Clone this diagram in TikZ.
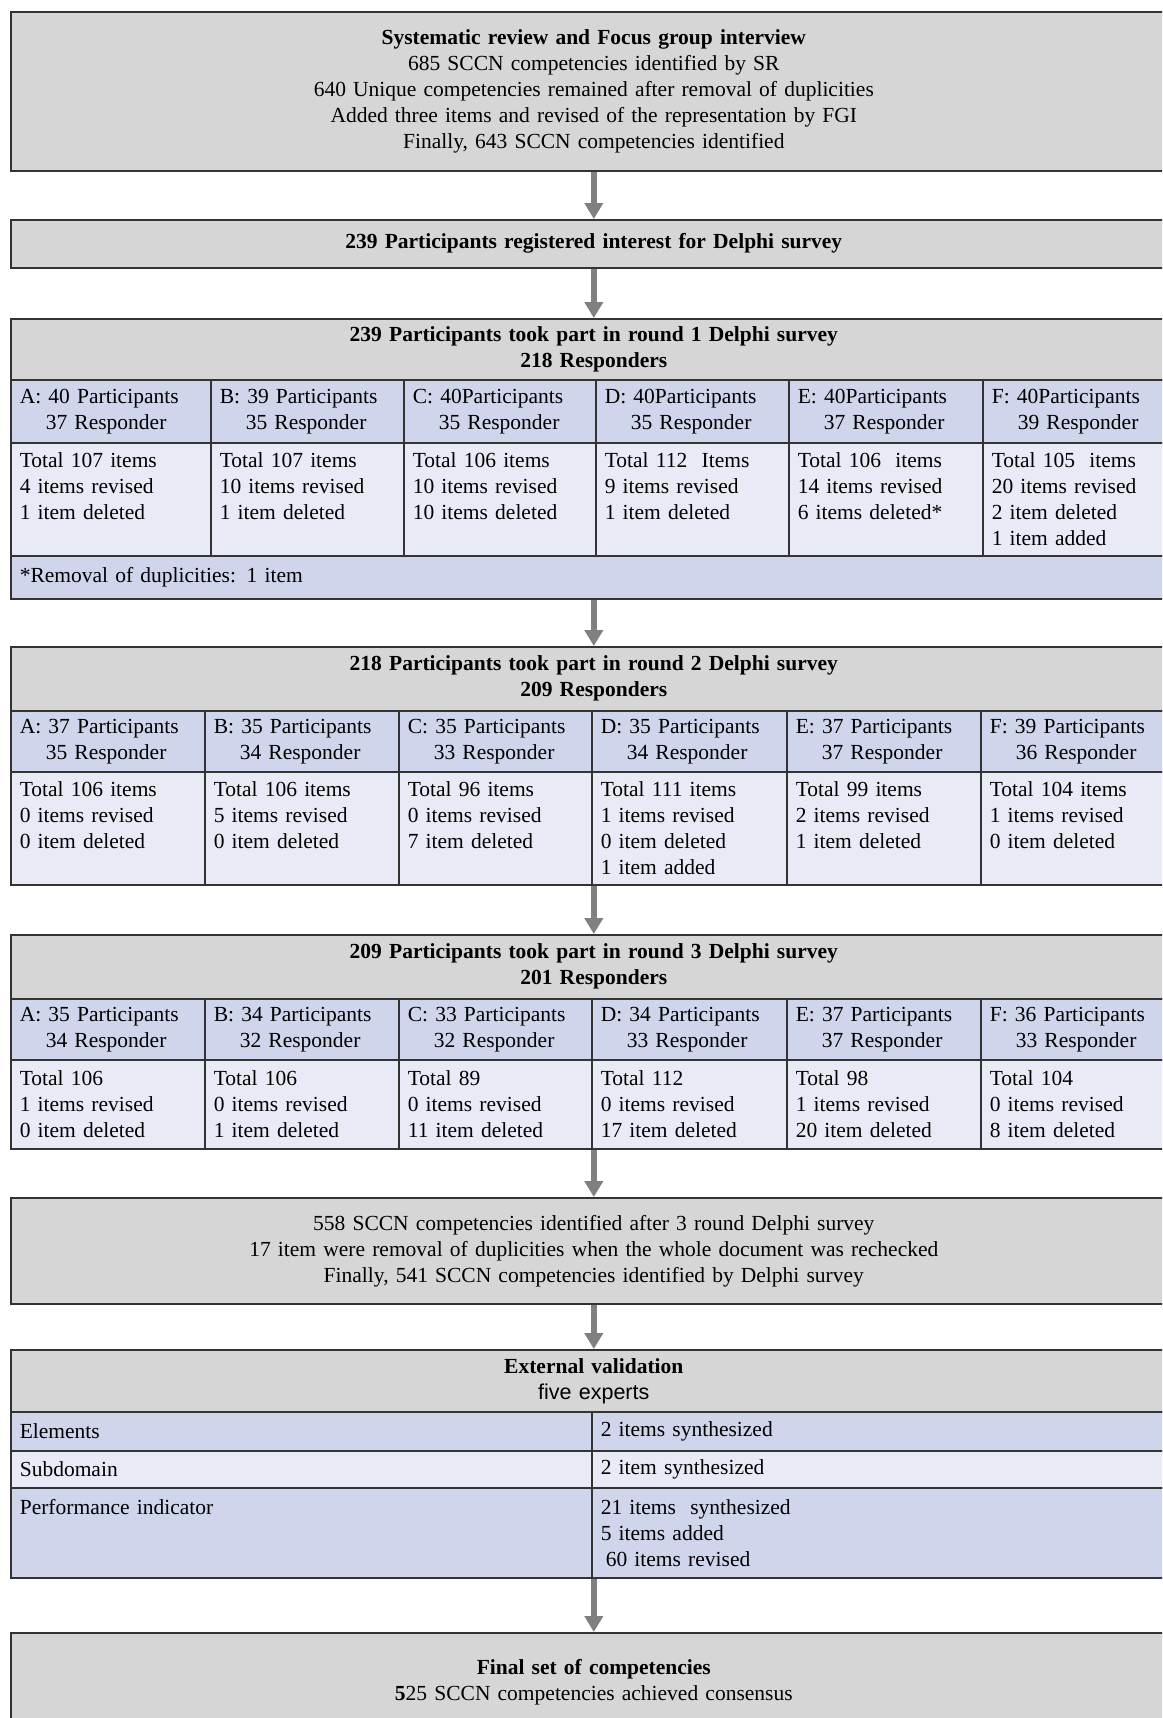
\documentclass[tikz,border=0pt]{standalone}
\usepackage{fontspec}
\setmainfont{Liberation Serif}
\newfontfamily\expertfont{Liberation Sans}
\usetikzlibrary{arrows.meta,fit}
\definecolor{boxgray}{HTML}{D6D6D6}
\definecolor{rowblue}{HTML}{CFD5EA}
\definecolor{rowpale}{HTML}{E8EBF5}
\definecolor{edge}{HTML}{333333}
\definecolor{flowgray}{HTML}{808080}

\begin{document}
\begin{tikzpicture}[x=1pt,y=-1pt,
    font=\fontsize{21.5}{26}\selectfont,
    box/.style={draw=edge,line width=1.6pt,anchor=north west,inner xsep=9pt,inner ysep=0pt,
      align=center,fill=boxgray,text width=1148pt},
    cell/.style={draw=edge,line width=1.6pt,anchor=north west,inner xsep=9pt,inner ysep=0pt,align=left},
    flow/.style={draw=flowgray,line width=6pt,-{Triangle[width=18pt,length=16pt]}}]
  \useasboundingbox (0,0) rectangle (1162,1718);
  \clip (0,0) rectangle (1162,1718);

  % literature and registration
  \node[box,minimum height=159pt] (sr) at (10,11)
    {\textbf{Systematic review and Focus group interview}\\
     685 SCCN competencies identified by SR\\
     640 Unique competencies remained after removal of duplicities\\
     Added three items and revised of the representation by FGI\\
     Finally, 643 SCCN competencies identified};
  \node[box,minimum height=48pt] (reg) at (10,219)
    {\textbf{239 Participants registered interest for Delphi survey}};

  % round 1
  \node[box,minimum height=61pt] (hd1) at (10,318)
    {\textbf{239 Participants took part in round 1 Delphi survey}\\\textbf{218 Responders}};
  \node[cell,fill=rowblue,text width=182pt,minimum height=63pt] (p1a) at (10,379) {A: 40 Participants\\\hspace*{26pt}37 Responder};
  \node[cell,fill=rowblue,text width=175pt,minimum height=63pt] (p1b) at (210,379) {B: 39 Participants\\\hspace*{26pt}35 Responder};
  \node[cell,fill=rowblue,text width=174pt,minimum height=63pt] (p1c) at (403,379) {C: 40Participants\\\hspace*{26pt}35 Responder};
  \node[cell,fill=rowblue,text width=175pt,minimum height=63pt] (p1d) at (595,379) {D: 40Participants\\\hspace*{26pt}35 Responder};
  \node[cell,fill=rowblue,text width=176pt,minimum height=63pt] (p1e) at (788,379) {E: 40Participants\\\hspace*{26pt}37 Responder};
  \node[cell,fill=rowblue,text width=176pt,minimum height=63pt] (p1f) at (982,379) {F: 40Participants\\\hspace*{26pt}39 Responder};
  \node[cell,fill=rowpale,text width=182pt,minimum height=113pt] (i1a) at (10,442) {Total 107 items\\4 items revised\\1 item deleted\\\mbox{}};
  \node[cell,fill=rowpale,text width=175pt,minimum height=113pt] (i1b) at (210,442) {Total 107 items\\10 items revised\\1 item deleted\\\mbox{}};
  \node[cell,fill=rowpale,text width=174pt,minimum height=113pt] (i1c) at (403,442) {Total 106 items\\10 items revised\\10 items deleted\\\mbox{}};
  \node[cell,fill=rowpale,text width=175pt,minimum height=113pt] (i1d) at (595,442) {Total 112\ \ Items\\9 items revised\\1 item deleted\\\mbox{}};
  \node[cell,fill=rowpale,text width=176pt,minimum height=113pt] (i1e) at (788,442) {Total 106\ \ items\\14 items revised\\6 items deleted*\\\mbox{}};
  \node[cell,fill=rowpale,text width=176pt,minimum height=113pt] (i1f) at (982,442) {Total 105\ \ items\\20 items revised\\2 item deleted\\1 item added};
  \node[box,fill=rowblue,align=left,minimum height=43pt] (foot1) at (10,555) {*Removal of duplicities: 1 item};

  % round 2
  \node[box,minimum height=64pt] (hd2) at (10,646)
    {\textbf{218 Participants took part in round 2 Delphi survey}\\\textbf{209 Responders}};
  \node[cell,fill=rowblue,text width=176pt,minimum height=61pt] (p2a) at (10,710) {A: 37 Participants\\\hspace*{26pt}35 Responder};
  \node[cell,fill=rowblue,text width=176pt,minimum height=61pt] (p2b) at (204,710) {B: 35 Participants\\\hspace*{26pt}34 Responder};
  \node[cell,fill=rowblue,text width=175pt,minimum height=61pt] (p2c) at (398,710) {C: 35 Participants\\\hspace*{26pt}33 Responder};
  \node[cell,fill=rowblue,text width=177pt,minimum height=61pt] (p2d) at (591,710) {D: 35 Participants\\\hspace*{26pt}34 Responder};
  \node[cell,fill=rowblue,text width=176pt,minimum height=61pt] (p2e) at (786,710) {E: 37 Participants\\\hspace*{26pt}37 Responder};
  \node[cell,fill=rowblue,text width=178pt,minimum height=61pt] (p2f) at (980,710) {F: 39 Participants\\\hspace*{26pt}36 Responder};
  \node[cell,fill=rowpale,text width=176pt,minimum height=113pt] (i2a) at (10,771) {Total 106 items\\0 items revised\\0 item deleted\\\mbox{}};
  \node[cell,fill=rowpale,text width=176pt,minimum height=113pt] (i2b) at (204,771) {Total 106 items\\5 items revised\\0 item deleted\\\mbox{}};
  \node[cell,fill=rowpale,text width=175pt,minimum height=113pt] (i2c) at (398,771) {Total 96 items\\0 items revised\\7 item deleted\\\mbox{}};
  \node[cell,fill=rowpale,text width=177pt,minimum height=113pt] (i2d) at (591,771) {Total 111 items\\1 items revised\\0 item deleted\\1 item added};
  \node[cell,fill=rowpale,text width=176pt,minimum height=113pt] (i2e) at (786,771) {Total 99 items\\2 items revised\\1 item deleted\\\mbox{}};
  \node[cell,fill=rowpale,text width=178pt,minimum height=113pt] (i2f) at (980,771) {Total 104 items\\1 items revised\\0 item deleted\\\mbox{}};
  \node[fit=(hd2)(i2f),inner sep=0pt] (round2) {};

  % round 3
  \node[box,minimum height=64pt] (hd3) at (10,934)
    {\textbf{209 Participants took part in round 3 Delphi survey}\\\textbf{201 Responders}};
  \node[cell,fill=rowblue,text width=176pt,minimum height=61pt] (p3a) at (10,998) {A: 35 Participants\\\hspace*{26pt}34 Responder};
  \node[cell,fill=rowblue,text width=176pt,minimum height=61pt] (p3b) at (204,998) {B: 34 Participants\\\hspace*{26pt}32 Responder};
  \node[cell,fill=rowblue,text width=175pt,minimum height=61pt] (p3c) at (398,998) {C: 33 Participants\\\hspace*{26pt}32 Responder};
  \node[cell,fill=rowblue,text width=177pt,minimum height=61pt] (p3d) at (591,998) {D: 34 Participants\\\hspace*{26pt}33 Responder};
  \node[cell,fill=rowblue,text width=176pt,minimum height=61pt] (p3e) at (786,998) {E: 37 Participants\\\hspace*{26pt}37 Responder};
  \node[cell,fill=rowblue,text width=178pt,minimum height=61pt] (p3f) at (980,998) {F: 36 Participants\\\hspace*{26pt}33 Responder};
  \node[cell,fill=rowpale,text width=176pt,minimum height=89pt] (i3a) at (10,1059) {Total 106\\1 items revised\\0 item deleted};
  \node[cell,fill=rowpale,text width=176pt,minimum height=89pt] (i3b) at (204,1059) {Total 106\\0 items revised\\1 item deleted};
  \node[cell,fill=rowpale,text width=175pt,minimum height=89pt] (i3c) at (398,1059) {Total 89\\0 items revised\\11 item deleted};
  \node[cell,fill=rowpale,text width=177pt,minimum height=89pt] (i3d) at (591,1059) {Total 112\\0 items revised\\17 item deleted};
  \node[cell,fill=rowpale,text width=176pt,minimum height=89pt] (i3e) at (786,1059) {Total 98\\1 items revised\\20 item deleted};
  \node[cell,fill=rowpale,text width=178pt,minimum height=89pt] (i3f) at (980,1059) {Total 104\\0 items revised\\8 item deleted};
  \node[fit=(hd3)(i3f),inner sep=0pt] (round3) {};

  % after delphi
  \node[box,minimum height=106pt] (sum) at (10,1197)
    {558 SCCN competencies identified after 3 round Delphi survey\\
     17 item were removal of duplicities when the whole document was rechecked\\
     Finally, 541 SCCN competencies identified by Delphi survey};

  % external validation
  \node[box,minimum height=62pt] (ext) at (10,1349)
    {\textbf{External validation}\\{\expertfont five experts}};
  \node[cell,fill=rowblue,text width=563pt,minimum height=39pt] (elem) at (10,1411) {Elements};
  \node[cell,fill=rowblue,text width=567pt,minimum height=39pt] (elemr) at (591,1411) {2 items synthesized};
  \node[cell,fill=rowpale,text width=563pt,minimum height=37pt] (sub) at (10,1450) {Subdomain};
  \node[cell,fill=rowpale,text width=567pt,minimum height=37pt] (subr) at (591,1450) {2 item synthesized};
  \node[cell,fill=rowblue,text width=563pt,minimum height=90pt] (perf) at (10,1487) {Performance indicator\\\mbox{}\\\mbox{}};
  \node[cell,fill=rowblue,text width=567pt,minimum height=90pt] (perfr) at (591,1487)
    {21 items\ \ synthesized\\5 items added\\\hspace*{5pt}60 items revised};
  \node[fit=(ext)(perfr),inner sep=0pt] (valid) {};

  \node[box,minimum height=98pt] (final) at (10,1632)
    {\textbf{Final set of competencies}\\\textbf{5}25 SCCN competencies achieved consensus};

  \draw[flow] (sr.south) -- (reg.north);
  \draw[flow] (reg.south) -- (hd1.north);
  \draw[flow] (foot1.south) -- (hd2.north);
  \draw[flow] (round2.south) -- (hd3.north);
  \draw[flow] (round3.south) -- (sum.north);
  \draw[flow] (sum.south) -- (ext.north);
  \draw[flow] (valid.south) -- (final.north);
\end{tikzpicture}
\end{document}
